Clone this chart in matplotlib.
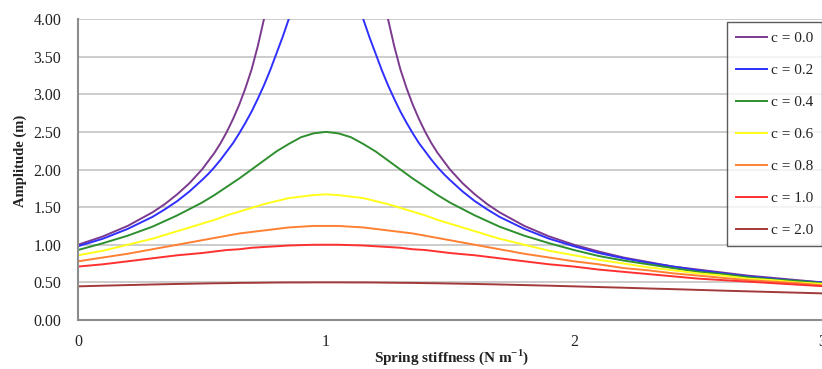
import numpy as np
import matplotlib
matplotlib.use("Agg")
import matplotlib.pyplot as plt

nan = np.nan

# Spring stiffness values (N m^-1) for the damped curves
stiffness = [0.0, 0.1, 0.2, 0.3, 0.4, 0.5,
             0.55, 0.6, 0.65, 0.7, 0.75, 0.8, 0.85, 0.9, 0.95, 1.0,
             1.05, 1.1, 1.15, 1.2, 1.25, 1.3, 1.35, 1.4, 1.45, 1.5,
             1.6, 1.7, 1.8, 1.9, 2.0, 2.1, 2.2, 2.3, 2.4, 2.5, 2.6, 2.7, 2.8, 2.9, 3.0]

# Finer stiffness sampling for the two sharply peaked curves
stiffness_fine = [0.0, 0.1, 0.2, 0.3, 0.35, 0.4, 0.45, 0.5, 0.525, 0.55, 0.575, 0.6,
                  0.625, 0.65, 0.675, 0.7, 0.725, 0.75, 0.775, 0.8, 0.825, 0.85, 0.9, 0.95, 1.0,
                  1.05, 1.1, 1.15, 1.175, 1.2, 1.225, 1.25, 1.275, 1.3, 1.325, 1.35, 1.375,
                  1.4, 1.425, 1.45, 1.475, 1.5, 1.55, 1.6, 1.65, 1.7, 1.8, 1.9, 2.0,
                  2.1, 2.2, 2.3, 2.4, 2.5, 2.6, 2.7, 2.8, 2.9, 3.0]

# Amplitude (m) for each damping coefficient
amp_c00 = [1.00, 1.11, 1.25, 1.43, 1.54, 1.67, 1.82, 2.00, 2.11, 2.22, 2.35, 2.50,
           2.67, 2.86, 3.08, 3.33, 3.64, 4.00, 4.44, 5.00, 5.71, 6.67, 10.0, 20.0, nan,
           20.0, 10.0, 6.67, 5.71, 5.00, 4.44, 4.00, 3.64, 3.33, 3.08, 2.86, 2.67,
           2.50, 2.35, 2.22, 2.11, 2.00, 1.82, 1.67, 1.54, 1.43, 1.25, 1.11, 1.00,
           0.91, 0.83, 0.77, 0.71, 0.67, 0.63, 0.59, 0.56, 0.53, 0.50]
amp_c02 = [0.98, 1.08, 1.21, 1.37, 1.47, 1.58, 1.71, 1.86, 1.94, 2.03, 2.13, 2.24,
           2.35, 2.48, 2.62, 2.77, 2.94, 3.12, 3.32, 3.54, 3.76, 4.00, 4.47, 4.85, 5.00,
           4.85, 4.47, 4.00, 3.76, 3.54, 3.32, 3.12, 2.94, 2.77, 2.62, 2.48, 2.35,
           2.24, 2.13, 2.03, 1.94, 1.86, 1.71, 1.58, 1.47, 1.37, 1.21, 1.08, 0.98,
           0.89, 0.82, 0.76, 0.71, 0.66, 0.62, 0.58, 0.55, 0.52, 0.50]
amp_c04 = [0.93, 1.02, 1.12, 1.24, 1.39, 1.56,
           1.66, 1.77, 1.88, 2.00, 2.12, 2.24, 2.34, 2.43, 2.48, 2.50,
           2.48, 2.43, 2.34, 2.24, 2.12, 2.00, 1.88, 1.77, 1.66, 1.56,
           1.39, 1.24, 1.12, 1.02, 0.93, 0.85, 0.79, 0.74, 0.69, 0.64, 0.61, 0.57, 0.54, 0.52, 0.49]
amp_c06 = [0.86, 0.92, 1.00, 1.08, 1.18, 1.28,
           1.33, 1.39, 1.44, 1.49, 1.54, 1.58, 1.62, 1.64, 1.66, 1.67,
           1.66, 1.64, 1.62, 1.58, 1.54, 1.49, 1.44, 1.39, 1.33, 1.28,
           1.18, 1.08, 1.00, 0.92, 0.86, 0.80, 0.75, 0.70, 0.66, 0.62, 0.59, 0.55, 0.53, 0.50, 0.48]
amp_c08 = [0.78, 0.83, 0.88, 0.94, 1.00, 1.06,
           1.09, 1.12, 1.15, 1.17, 1.19, 1.21, 1.23, 1.24, 1.25, 1.25,
           1.25, 1.24, 1.23, 1.21, 1.19, 1.17, 1.15, 1.12, 1.09, 1.06,
           1.00, 0.94, 0.88, 0.83, 0.78, 0.74, 0.69, 0.66, 0.62, 0.59, 0.56, 0.53, 0.51, 0.49, 0.46]
amp_c10 = [0.71, 0.74, 0.78, 0.82, 0.86, 0.89,
           0.91, 0.93, 0.94, 0.96, 0.97, 0.98, 0.99, 0.995, 1.00, 1.00,
           1.00, 0.995, 0.99, 0.98, 0.97, 0.96, 0.94, 0.93, 0.91, 0.89,
           0.86, 0.82, 0.78, 0.74, 0.71, 0.67, 0.64, 0.61, 0.58, 0.55, 0.53, 0.51, 0.49, 0.47, 0.45]
amp_c20 = [0.447, 0.456, 0.464, 0.472, 0.479, 0.485,
           0.488, 0.490, 0.493, 0.494, 0.496, 0.498, 0.499, 0.499, 0.500, 0.500,
           0.500, 0.499, 0.499, 0.498, 0.496, 0.494, 0.493, 0.490, 0.488, 0.485,
           0.479, 0.472, 0.464, 0.456, 0.447, 0.438, 0.429, 0.419, 0.410, 0.400,
           0.390, 0.381, 0.372, 0.363, 0.354]

series_labels = ["c = 0.0", "c = 0.2", "c = 0.4", "c = 0.6", "c = 0.8", "c = 1.0", "c = 2.0"]
series_x = [stiffness_fine, stiffness_fine, stiffness, stiffness, stiffness, stiffness, stiffness]
series_values = [amp_c00, amp_c02, amp_c04, amp_c06, amp_c08, amp_c10, amp_c20]
series_colors = ["#7B3A8E", "#2F2FFF", "#2E8F2E", "#FFFF1A", "#FF8033", "#FF3030", "#A33A3A"]

y_ticks = [0.0, 0.5, 1.0, 1.5, 2.0, 2.5, 3.0, 3.5, 4.0]
x_ticks = [0, 1, 2, 3]

plt.rcParams["font.family"] = ["Liberation Serif", "DejaVu Serif"]

W, H = 822, 369
fig = plt.figure(figsize=(W / 100, H / 100), dpi=100)
left, right, top, bottom = 78, 822, 19, 320
ax = fig.add_axes([left / W, 1 - bottom / H, (right - left) / W, (bottom - top) / H])

ax.set_xlim(0, 3)
ax.set_ylim(0, 4)
ax.set_yticks(y_ticks)
ax.set_yticklabels([f"{v:.2f}" for v in y_ticks])
ax.set_xticks(x_ticks)
ax.set_xticklabels([str(v) for v in x_ticks])
ax.tick_params(length=0, labelsize=11.5, labelcolor="#222222")
ax.tick_params(axis="y", pad=12)
ax.tick_params(axis="x", pad=10)

ax.grid(axis="y", color="#C8C8C8", linewidth=1.3)
ax.set_axisbelow(True)
for side in ["top", "right"]:
    ax.spines[side].set_visible(False)
for side in ["left", "bottom"]:
    ax.spines[side].set_color("#8C8C8C")
    ax.spines[side].set_linewidth(1.5)

for lab, xs, vals, col in zip(series_labels, series_x, series_values, series_colors):
    ax.plot(xs, vals, color=col, linewidth=1.4, label=lab)

fig.text(452 / W, 1 - 357 / H, "Spring stiffness (N m$^{\\mathregular{-1}}$)",
         ha="center", va="center", fontsize=11, fontweight="bold", color="#222222")
fig.text(20 / W, 1 - 161 / H, "Amplitude (m)", ha="center", va="center",
         rotation=90, fontsize=10.5, fontweight="bold", color="#222222")

leg = fig.legend(loc="upper left", bbox_to_anchor=(727 / W, 1 - 22 / H),
                 frameon=True, fancybox=False, fontsize=11,
                 handlelength=2.05, handletextpad=0.2, labelspacing=1.2,
                 borderpad=0.6, borderaxespad=0)
leg.get_frame().set_edgecolor("#333333")
leg.get_frame().set_linewidth(1.0)
for t in leg.get_texts():
    t.set_color("#222222")

fig.savefig("out.png", dpi=100)
